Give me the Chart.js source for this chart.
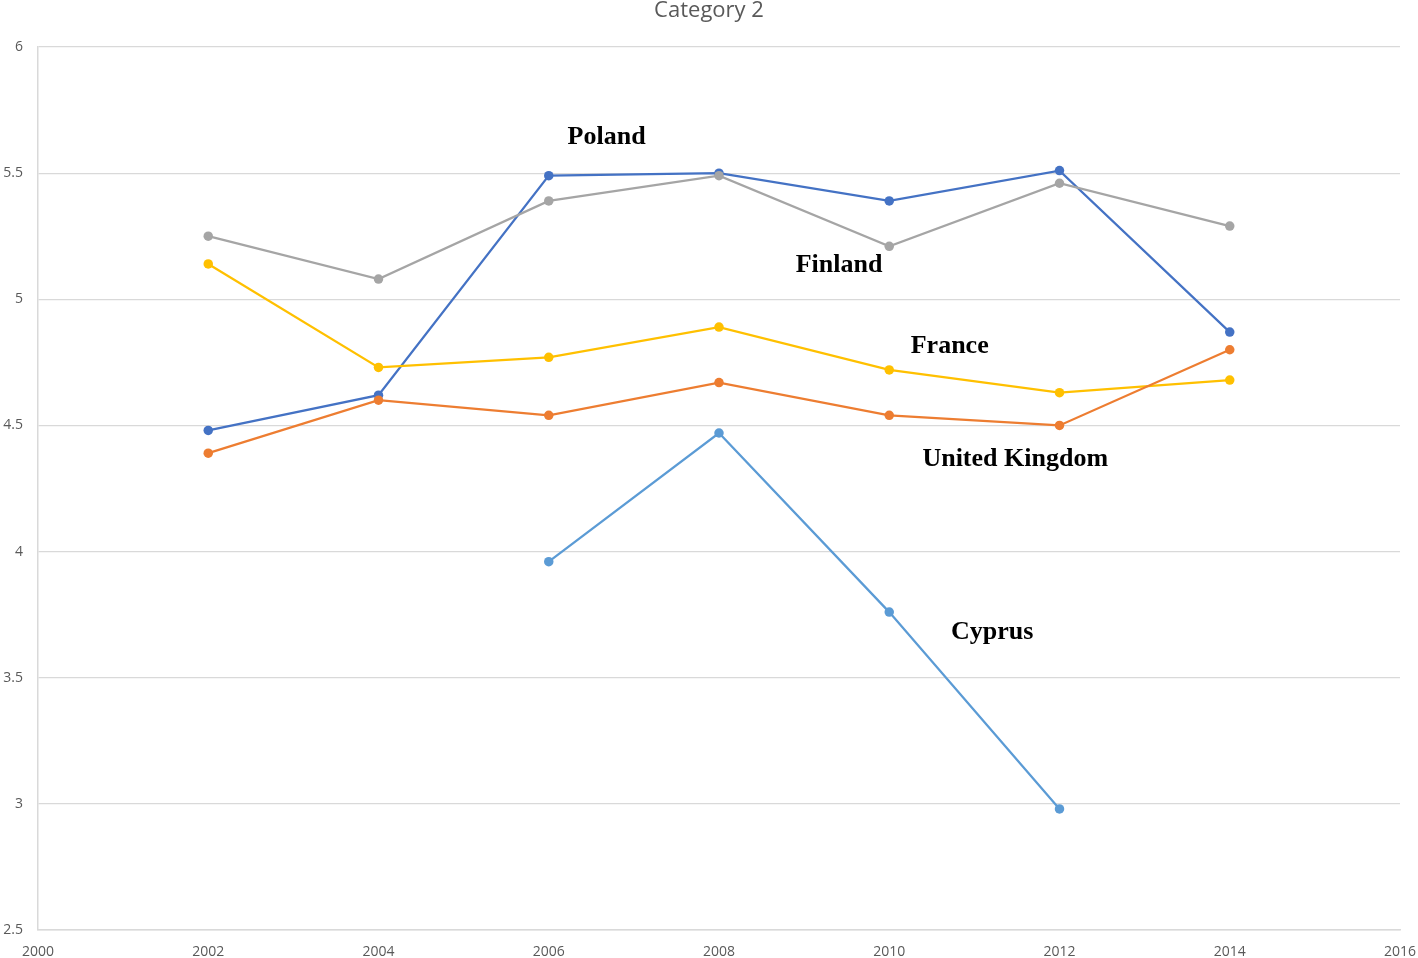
<!DOCTYPE html>
<html>
<head>
<meta charset="utf-8">
<script src="https://cdn.jsdelivr.net/npm/chart.js@4/dist/chart.umd.min.js"></script>
<style>
    html, body { margin: 0; padding: 0; background: #fff; }
    #wrap { width: 1418px; height: 958px; }
</style>
</head>
<body>
<div id="wrap"><canvas id="chart" width="1418" height="958"></canvas></div>
<script>
    'use strict';

    // values
    var years = [2002, 2004, 2006, 2008, 2010, 2012, 2014];
    var cyprus = [null, null, 3.96, 4.47, 3.76, 2.98, null];
    var poland = [4.48, 4.62, 5.49, 5.50, 5.39, 5.51, 4.87];
    var uk = [4.39, 4.60, 4.54, 4.67, 4.54, 4.50, 4.80];
    var finland = [5.25, 5.08, 5.39, 5.49, 5.21, 5.46, 5.29];
    var france = [5.14, 4.73, 4.77, 4.89, 4.72, 4.63, 4.68];

    // country names written inside the plot, anchored in data units
    var labelNames = ['Poland', 'Finland', 'France', 'United Kingdom', 'Cyprus'];
    var labelX = [2006.68, 2009.41, 2010.71, 2011.48, 2011.21];
    var labelY = [5.643, 5.136, 4.815, 4.367, 3.681];

    function points(values) {
        return years.map(function(yr, i) { return { x: yr, y: values[i] }; });
    }

    function series(name, values, color) {
        return {
            label: name,
            data: points(values),
            borderColor: color,
            backgroundColor: color,
            borderWidth: 2.25,
            pointRadius: 4.75,
            pointHoverRadius: 4.75,
            pointBorderWidth: 0,
            tension: 0,
            spanGaps: false
        };
    }

    var nameLabels = {
        id: 'nameLabels',
        afterDatasetsDraw: function(chart) {
            var ctx = chart.ctx;
            var xs = chart.scales.x, ys = chart.scales.y;
            ctx.save();
            ctx.font = 'bold 26px "Liberation Serif", "Times New Roman", serif';
            ctx.fillStyle = '#000';
            ctx.textAlign = 'center';
            ctx.textBaseline = 'middle';
            labelNames.forEach(function(name, i) {
                ctx.fillText(name, xs.getPixelForValue(labelX[i]), ys.getPixelForValue(labelY[i]));
            });
            ctx.restore();
        }
    };

    var tickFont = { family: '"Open Sans", "Noto Sans", sans-serif', size: 14 };

    new Chart(document.getElementById('chart'), {
        type: 'line',
        data: {
            datasets: [
                series('Cyprus', cyprus, '#5B9BD5'),
                series('United Kingdom', uk, '#ED7D31'),
                series('Finland', finland, '#A5A5A5'),
                series('France', france, '#FFC000'),
                series('Poland', poland, '#4472C4')
            ]
        },
        options: {
            responsive: false,
            animation: false,
            layout: { padding: 0 },
            plugins: {
                legend: { display: false },
                tooltip: { enabled: false },
                title: {
                    display: true,
                    text: 'Category 2',
                    color: '#595959',
                    font: { family: '"Open Sans", "Noto Sans", sans-serif', size: 22, weight: 'normal', lineHeight: 1.0 },
                    padding: { top: 0, bottom: 25 }
                }
            },
            scales: {
                x: {
                    type: 'linear',
                    min: 2000,
                    max: 2016,
                    ticks: { stepSize: 2, color: '#595959', font: tickFont, padding: 14, maxRotation: 0,
                             callback: function(v) { return String(v); } },
                    grid: { display: false, drawTicks: false },
                    border: { display: true, color: '#D9D9D9', width: 1.5 },
                    afterFit: function(scale) {
                        scale.height = 28;
                        scale.paddingLeft = 0;
                        scale.paddingRight = 18;
                    }
                },
                y: {
                    min: 2.5,
                    max: 6,
                    ticks: { stepSize: 0.5, color: '#595959', font: tickFont, padding: 15,
                             callback: function(v) { return String(v); } },
                    grid: { color: '#D9D9D9', lineWidth: 1.25, drawTicks: false },
                    border: { display: true, color: '#D9D9D9', width: 1.5 },
                    afterFit: function(scale) { scale.width = 38; }
                }
            }
        },
        plugins: [nameLabels]
    });
</script>
</body>
</html>
